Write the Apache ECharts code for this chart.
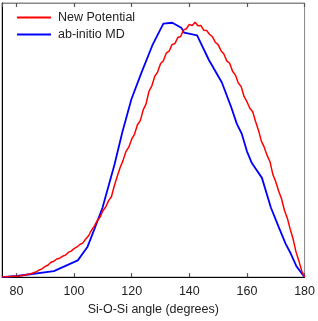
<!DOCTYPE html>
<html><head><meta charset="utf-8">
<script src="https://cdn.jsdelivr.net/npm/echarts@6/dist/echarts.min.js"></script>
<style>html,body{margin:0;padding:0;background:#fff}#c{width:318px;height:321px}</style>
</head><body><div id="c"></div>
<script>
const seriesNames = ['New Potential', 'ab-initio MD'];
const xTicks = [80, 100, 120, 140, 160, 180];
const redAngles = [];
for (let a = 75; a <= 180; a++) redAngles.push(a);
const redValues = [
0.000,0.001,0.001,0.002,0.003,0.003,0.004,0.006,0.008,0.010,
0.012,0.016,0.020,0.026,0.031,0.039,0.044,0.054,0.058,0.066,
0.069,0.076,0.080,0.090,0.095,0.104,0.110,0.119,0.124,0.138,
0.150,0.170,0.185,0.205,0.218,0.242,0.256,0.279,0.294,0.334,
0.368,0.400,0.425,0.458,0.474,0.503,0.522,0.556,0.571,0.610,
0.632,0.678,0.698,0.732,0.748,0.778,0.789,0.817,0.824,0.848,
0.852,0.874,0.878,0.902,0.906,0.922,0.918,0.930,0.917,0.918,
0.901,0.900,0.886,0.877,0.857,0.848,0.826,0.814,0.789,0.780,
0.751,0.737,0.708,0.695,0.659,0.640,0.616,0.603,0.568,0.536,
0.496,0.474,0.444,0.421,0.374,0.348,0.314,0.286,0.244,0.216,
0.175,0.140,0.093,0.060,0.023,0.000];
const blueAngles = [75,80.2,93.0,101.3,104.7,107.1,109.9,114.0,116.8,119.9,123.4,127.2,131.0,134.1,137.2,138.2,142.7,146.8,151.3,154.4,156.5,158.2,160.0,161.7,165.2,168.3,171.0,173.4,175.2,177.2,179.7,180];
const blueValues = [0,0.004,0.022,0.061,0.111,0.176,0.254,0.409,0.530,0.649,0.746,0.846,0.925,0.928,0.910,0.892,0.882,0.792,0.710,0.624,0.559,0.523,0.459,0.416,0.362,0.254,0.183,0.122,0.086,0.039,0.004,0];

const chart = echarts.init(document.getElementById('c'), null, {renderer: 'canvas'});
const font = 'Liberation Sans, Arial, sans-serif';
chart.setOption({
  animation: false,
  grid: {left: 2, right: 12, top: 3, bottom: 40, containLabel: false,
         show: true, borderColor: '#888', borderWidth: 1, backgroundColor: 'transparent'},
  legend: {
    left: 12, top: 6, orient: 'vertical', itemWidth: 34, itemHeight: 2, itemGap: 4,
    icon: 'rect',
    textStyle: {fontFamily: font, fontSize: 12.5, color: '#222', padding: [0,0,0,2]},
    data: seriesNames
  },
  xAxis: [{
    type: 'value', min: 75, max: 180, splitNumber: 5, position: 'bottom',
    name: 'Si-O-Si angle (degrees)', nameLocation: 'middle', nameGap: 25,
    nameTextStyle: {fontFamily: font, fontSize: 12.5, color: '#222'},
    axisLine: {show: true, onZero: false, lineStyle: {color: '#000', width: 1}},
    axisTick: {show: true, inside: true, length: 4, lineStyle: {color: '#555', width: 1.2}},
    axisLabel: {showMinLabel: false, fontFamily: font, fontSize: 12.5, color: '#222', margin: 8,
      formatter: v => xTicks.indexOf(v) >= 0 ? String(v) : ''},
    splitLine: {show: false}
  }, {
    type: 'value', min: 75, max: 180, splitNumber: 5, position: 'top',
    axisLine: {show: true, onZero: false, lineStyle: {color: '#888', width: 1}},
    axisTick: {show: true, inside: true, length: 4, lineStyle: {color: '#555', width: 1.2}},
    axisLabel: {show: false}, splitLine: {show: false}
  }],
  yAxis: [{
    type: 'value', min: 0, max: 1, position: 'left',
    axisLine: {show: true, onZero: false, lineStyle: {color: '#000'}},
    axisTick: {show: false}, axisLabel: {show: false}, splitLine: {show: false}
  }],
  series: [{
    name: seriesNames[0], type: 'line', showSymbol: false, symbol: 'none',
    color: '#ff0000', lineStyle: {width: 1.5, color: '#ff0000'},
    data: redAngles.map((a, i) => [a, redValues[i]]), z: 3
  }, {
    name: seriesNames[1], type: 'line', showSymbol: false, symbol: 'none',
    color: '#0000ff', lineStyle: {width: 1.8, color: '#0000ff'},
    data: blueAngles.map((a, i) => [a, blueValues[i]]), z: 2
  }]
});
</script></body></html>
